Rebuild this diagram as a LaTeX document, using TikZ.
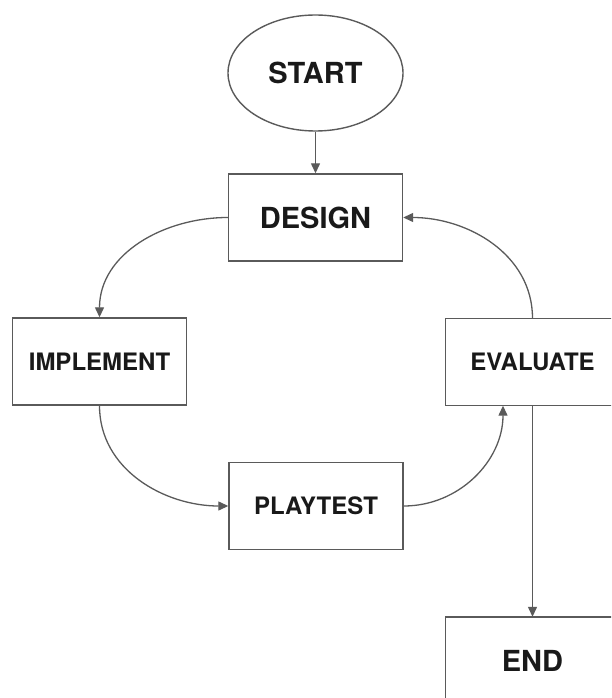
\documentclass[tikz,border=0pt]{standalone}
\usepackage{fontspec}
\setmainfont{TeX Gyre Heros}
\usetikzlibrary{shapes.geometric,arrows.meta}
\definecolor{linegray}{RGB}{90,90,90}
\tikzset{
  bigtext/.style={font=\fontsize{29}{34}\selectfont\bfseries},
  smalltext/.style={font=\fontsize{24}{28}\selectfont\bfseries},
  frame/.style={draw=linegray, line width=1.4pt},
  stepbox/.style={frame, rectangle, minimum width=174pt, minimum height=87pt, inner sep=0pt, text=black!90},
  openbox/.style={rectangle, minimum width=174pt, minimum height=87pt, inner sep=0pt, text=black!90},
  startshape/.style={frame, ellipse, minimum width=175pt, minimum height=116pt, inner sep=0pt, text=black!90},
  conn/.style={draw=linegray, line width=1.3pt, -{Triangle[length=10pt,width=9pt]}}
}
\begin{document}
\begin{tikzpicture}[x=1pt,y=-1pt]
  \clip (0,0) rectangle (611,698);
  \useasboundingbox (0,0) rectangle (611,698);
  \node[startshape, bigtext] (start) at (315.5,73) {START};
  \node[stepbox, bigtext] (design) at (315.5,217.5) {DESIGN};
  \node[stepbox, smalltext] (implement) at (99.5,361.5) {IMPLEMENT};
  \node[openbox, smalltext] (evaluate) at (532.5,362) {EVALUATE};
  \node[stepbox, smalltext] (playtest) at (316,506) {PLAYTEST};
  \node[openbox, bigtext] (end) at (532.5,660.5) {END};
  \draw[frame] ([xshift=40pt]evaluate.north east) -- (evaluate.north west) -- (evaluate.south west) -- ([xshift=40pt]evaluate.south east);
  \draw[frame] ([xshift=40pt]end.north east) -- (end.north west) -- ([yshift=-40pt]end.south west);
  \coordinate (evin) at ([xshift=-29.5pt]evaluate.south);
  \draw[conn] (start.south) -- (design.north);
  \draw[conn] (design.west) to[out=180,in=90] (implement.north);
  \draw[conn] (implement.south) to[out=-90,in=180] (playtest.west);
  \draw[conn] (playtest.east) to[out=0,in=-90] (evin);
  \draw[conn] (evaluate.north) to[out=90,in=0] (design.east);
  \draw[conn] (evaluate.south) -- (end.north);
\end{tikzpicture}
\end{document}
